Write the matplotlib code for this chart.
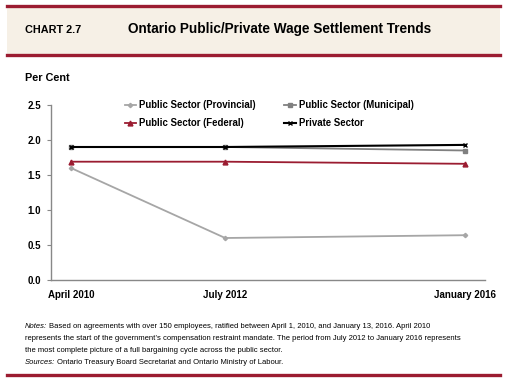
import matplotlib
matplotlib.use('Agg')
import matplotlib.pyplot as plt
from matplotlib.lines import Line2D
from matplotlib.patches import Rectangle

# data
months = [0, 27, 69]  # months since April 2010
tick_labels = ['April 2010', 'July 2012', 'January 2016']
provincial = [1.60, 0.60, 0.64]
municipal = [1.90, 1.90, 1.85]
federal = [1.69, 1.69, 1.66]
private = [1.90, 1.90, 1.93]

plt.rcParams['font.family'] = ['Liberation Sans', 'DejaVu Sans']

W, H = 506, 380
red = '#9b1c31'
fig = plt.figure(figsize=(W / 100, H / 100), dpi=100)
fig.canvas.draw()
renderer = fig.canvas.get_renderer()


def fit_text(x, y, s, width_px, size=10, **kw):
    # place a text and shrink it so it spans about width_px pixels
    t = fig.text(x / W, 1 - y / H, s, fontsize=size, va='center', **kw)
    w = t.get_window_extent(renderer).width
    t.set_fontsize(size * width_px / w)
    return t


# header band
fig.patches.append(Rectangle((7 / W, 1 - 55 / H), 493 / W, 49 / H, transform=fig.transFigure,
                             facecolor='#f6f0e6', edgecolor='none', zorder=0))
for yy in (6, 55, 375):
    fig.add_artist(Line2D([7 / W, 500 / W], [1 - yy / H, 1 - yy / H], color=red, lw=2.4))
fit_text(25, 30, 'CHART 2.7', 56, fontweight='bold')
fit_text(128, 29, 'Ontario Public/Private Wage Settlement Trends', 305, fontweight='bold')
fit_text(25, 78, 'Per Cent', 45, fontweight='bold')

ax = fig.add_axes([51 / W, 1 - 280 / H, 434 / W, 175 / H])
ax.plot(months, provincial, color='#a6a6a6', marker='D', ms=2.2, lw=1.3, label='Public Sector (Provincial)')
ax.plot(months, federal, color=red, marker='^', ms=3.5, lw=1.3, label='Public Sector (Federal)')
ax.plot(months, municipal, color='#808080', marker='s', ms=3.2, lw=1.3, label='Public Sector (Municipal)')
ax.plot(months, private, color='black', marker='x', ms=3.5, lw=1.5, label='Private Sector')

ax.set_xlim(-3.5, 72.5)
ax.set_ylim(0, 2.5)
yt = [0, 0.5, 1.0, 1.5, 2.0, 2.5]
ax.set_yticks(yt)
ax.set_yticklabels([f'{v:.1f}' for v in yt])
ax.set_xticks(months)
ax.set_xticklabels(tick_labels)
for lab in ax.get_xticklabels() + ax.get_yticklabels():
    lab.set_fontweight('bold')
    lab.set_fontsize(7.0)
ax.tick_params(axis='x', length=0, pad=7)
ax.tick_params(axis='y', length=3, color='#888888', pad=4)
for s in ('top', 'right'):
    ax.spines[s].set_visible(False)
for s in ('left', 'bottom'):
    ax.spines[s].set_color('#888888')
    ax.spines[s].set_linewidth(1.0)

leg = ax.legend(ncol=2, loc='upper left', bbox_to_anchor=(0.15, 1.075), frameon=False,
                fontsize=6.9, handlelength=1.2, handletextpad=0.3, columnspacing=3.0,
                labelspacing=0.8)
for t in leg.get_texts():
    t.set_fontweight('bold')

# notes
notes = [
    (327, 'Notes:', 'Based on agreements with over 150 employees, ratified between April 1, 2010, and January 13, 2016. April 2010'),
    (339, '', 'represents the start of the government\u2019s compensation restraint mandate. The period from July 2012 to January 2016 represents'),
    (351, '', 'the most complete picture of a full bargaining cycle across the public sector.'),
    (363, 'Sources:', 'Ontario Treasury Board Secretariat and Ontario Ministry of Labour.'),
]
probe = fit_text(25, 339, notes[1][2], 437)
fs = probe.get_fontsize()
probe.remove()
for yy, lead, rest in notes:
    xx = 25
    if lead:
        t = fig.text(xx / W, 1 - yy / H, lead, fontsize=fs, style='italic', va='center')
        xx += t.get_window_extent(renderer).width + 2
    fig.text(xx / W, 1 - yy / H, rest, fontsize=fs, va='center')

fig.savefig('out.png', dpi=100)
